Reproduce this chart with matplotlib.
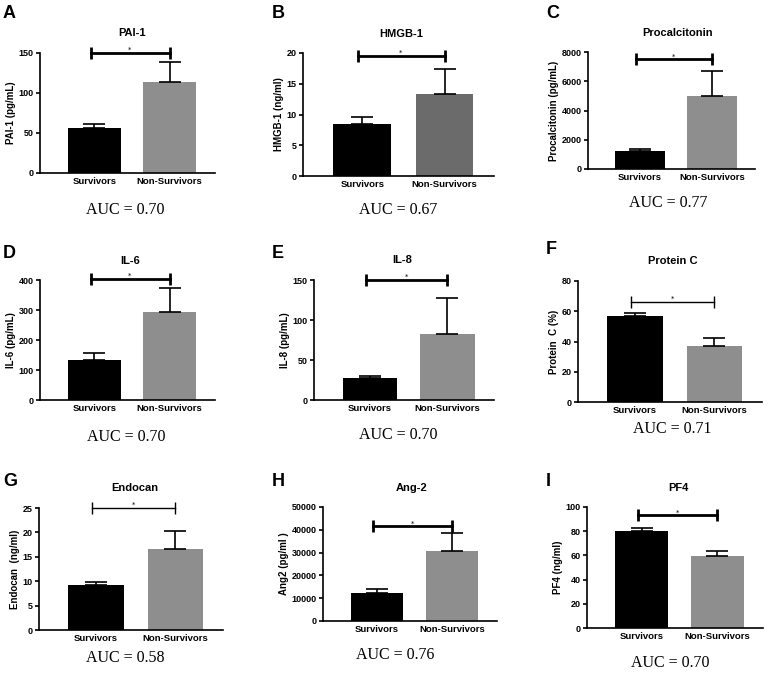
import matplotlib.pyplot as plt

W, H = 773, 673

groups = ["Survivors", "Non-Survivors"]

letters = ["A", "B", "C", "D", "E", "F", "G", "H", "I"]
titles = ["PAI-1", "HMGB-1", "Procalcitonin", "IL-6", "IL-8", "Protein C",
          "Endocan", "Ang-2", "PF4"]
ylabels = ["PAI-1 (pg/mL)", "HMGB-1 (ng/ml)", "Procalcitonin (pg/mL)",
           "IL-6 (pg/mL)", "IL-8 (pg/mL)", "Protein  C (%)",
           "Endocan  (ng/ml)", "Ang2 (pg/ml )", "PF4 (ng/ml)"]
means = [[56, 114], [8.4, 13.4], [1200, 5000], [135, 293], [27, 83],
         [57, 37], [9.2, 16.6], [12500, 30500], [80, 59.5]]
upper = [[61, 139], [9.6, 17.4], [1350, 6700], [157, 375], [30, 128],
         [59, 42], [9.8, 20.3], [14000, 38500], [83, 63.5]]
yticks = [[0, 50, 100, 150], [0, 5, 10, 15, 20], [0, 2000, 4000, 6000, 8000],
          [0, 100, 200, 300, 400], [0, 50, 100, 150], [0, 20, 40, 60, 80],
          [0, 5, 10, 15, 20, 25], [0, 10000, 20000, 30000, 40000, 50000],
          [0, 20, 40, 60, 80, 100]]
sig_y = [150, 19.5, 7500, 405, 150, 66, 25, 41500, 93]
auc = ["0.70", "0.67", "0.77", "0.70", "0.70", "0.71", "0.58", "0.76", "0.70"]

# layout in pixels: axes box (left, top, right, bottom), title (x, y), auc (x, y), letter (x, y)
boxes = [(40, 53, 215, 173), (303, 53, 494, 176), (588, 52, 755, 169),
         (40, 280, 215, 400), (314, 280, 494, 400), (578, 281, 762, 402),
         (39, 508, 223, 630), (323, 507, 497, 621), (587, 507, 763, 628)]
title_pos = [(132, 33), (401, 34), (678, 33), (130, 261), (402, 260),
             (673, 261), (135, 488), (412, 488), (678, 488)]
auc_pos = [(125, 210), (398, 210), (668, 203), (126, 437), (398, 435),
           (672, 429), (125, 658), (395, 655), (670, 663)]
letter_pos = [(3, 13), (272, 13), (546, 13), (3, 254), (272, 254),
              (546, 250), (3, 482), (272, 481), (546, 482)]
nonsurv_color = ["#8e8e8e", "#6b6b6b"] + ["#8e8e8e"] * 7
thin_sig = [False] * 5 + [True, True, False, False]

fig = plt.figure(figsize=(W / 100, H / 100), dpi=100)
bold = dict(fontfamily="Liberation Sans", fontweight="bold")

for i in range(9):
    x0, y0, x1, y1 = boxes[i]
    ax = fig.add_axes([x0 / W, 1 - y1 / H, (x1 - x0) / W, (y1 - y0) / H])
    ax.bar([0, 1], means[i], width=0.7, color=["black", nonsurv_color[i]])
    err = [u - m for u, m in zip(upper[i], means[i])]
    ax.errorbar([0, 1], means[i], yerr=[[0, 0], err], fmt="none",
                ecolor="black", elinewidth=1.2, capsize=8, capthick=1.2)
    lw = 1.0 if thin_sig[i] else 2.0
    ax.plot([-0.05, 1.0], [sig_y[i], sig_y[i]], color="black", lw=lw,
            marker="|", ms=9, mew=lw, clip_on=False)
    ax.text(0.47, sig_y[i], "*", ha="center", va="bottom", fontsize=5,
            clip_on=False)
    ax.set_xlim(-0.72, 1.6)
    ax.set_ylim(0, yticks[i][-1])
    ax.set_yticks(yticks[i])
    ax.set_xticks([0, 1])
    ax.set_xticklabels(groups, fontsize=6.8, **bold)
    for lab in ax.get_yticklabels():
        lab.set_fontsize(6.5)
        lab.set_fontfamily("Liberation Sans")
        lab.set_fontweight("bold")
    ax.set_ylabel(ylabels[i], fontsize=7, labelpad=2, **bold)
    ax.spines["top"].set_visible(False)
    ax.spines["right"].set_visible(False)
    ax.spines["left"].set_linewidth(1.2)
    ax.spines["bottom"].set_linewidth(1.2)
    ax.tick_params(axis="both", direction="out", length=3, width=1.2, pad=1.5)
    ax.tick_params(axis="x", length=0, pad=3)

    tx, ty = title_pos[i]
    fig.text(tx / W, 1 - ty / H, titles[i], ha="center", va="center",
             fontsize=8, **bold)
    axx, ayy = auc_pos[i]
    fig.text(axx / W, 1 - ayy / H, "AUC = " + auc[i], ha="center",
             va="center", fontsize=11.5, fontfamily="Liberation Serif")
    lx, ly = letter_pos[i]
    fig.text(lx / W, 1 - ly / H, letters[i], ha="left", va="center",
             fontsize=13, fontfamily="Liberation Sans", fontweight="bold")

fig.savefig("out.png", dpi=100)
